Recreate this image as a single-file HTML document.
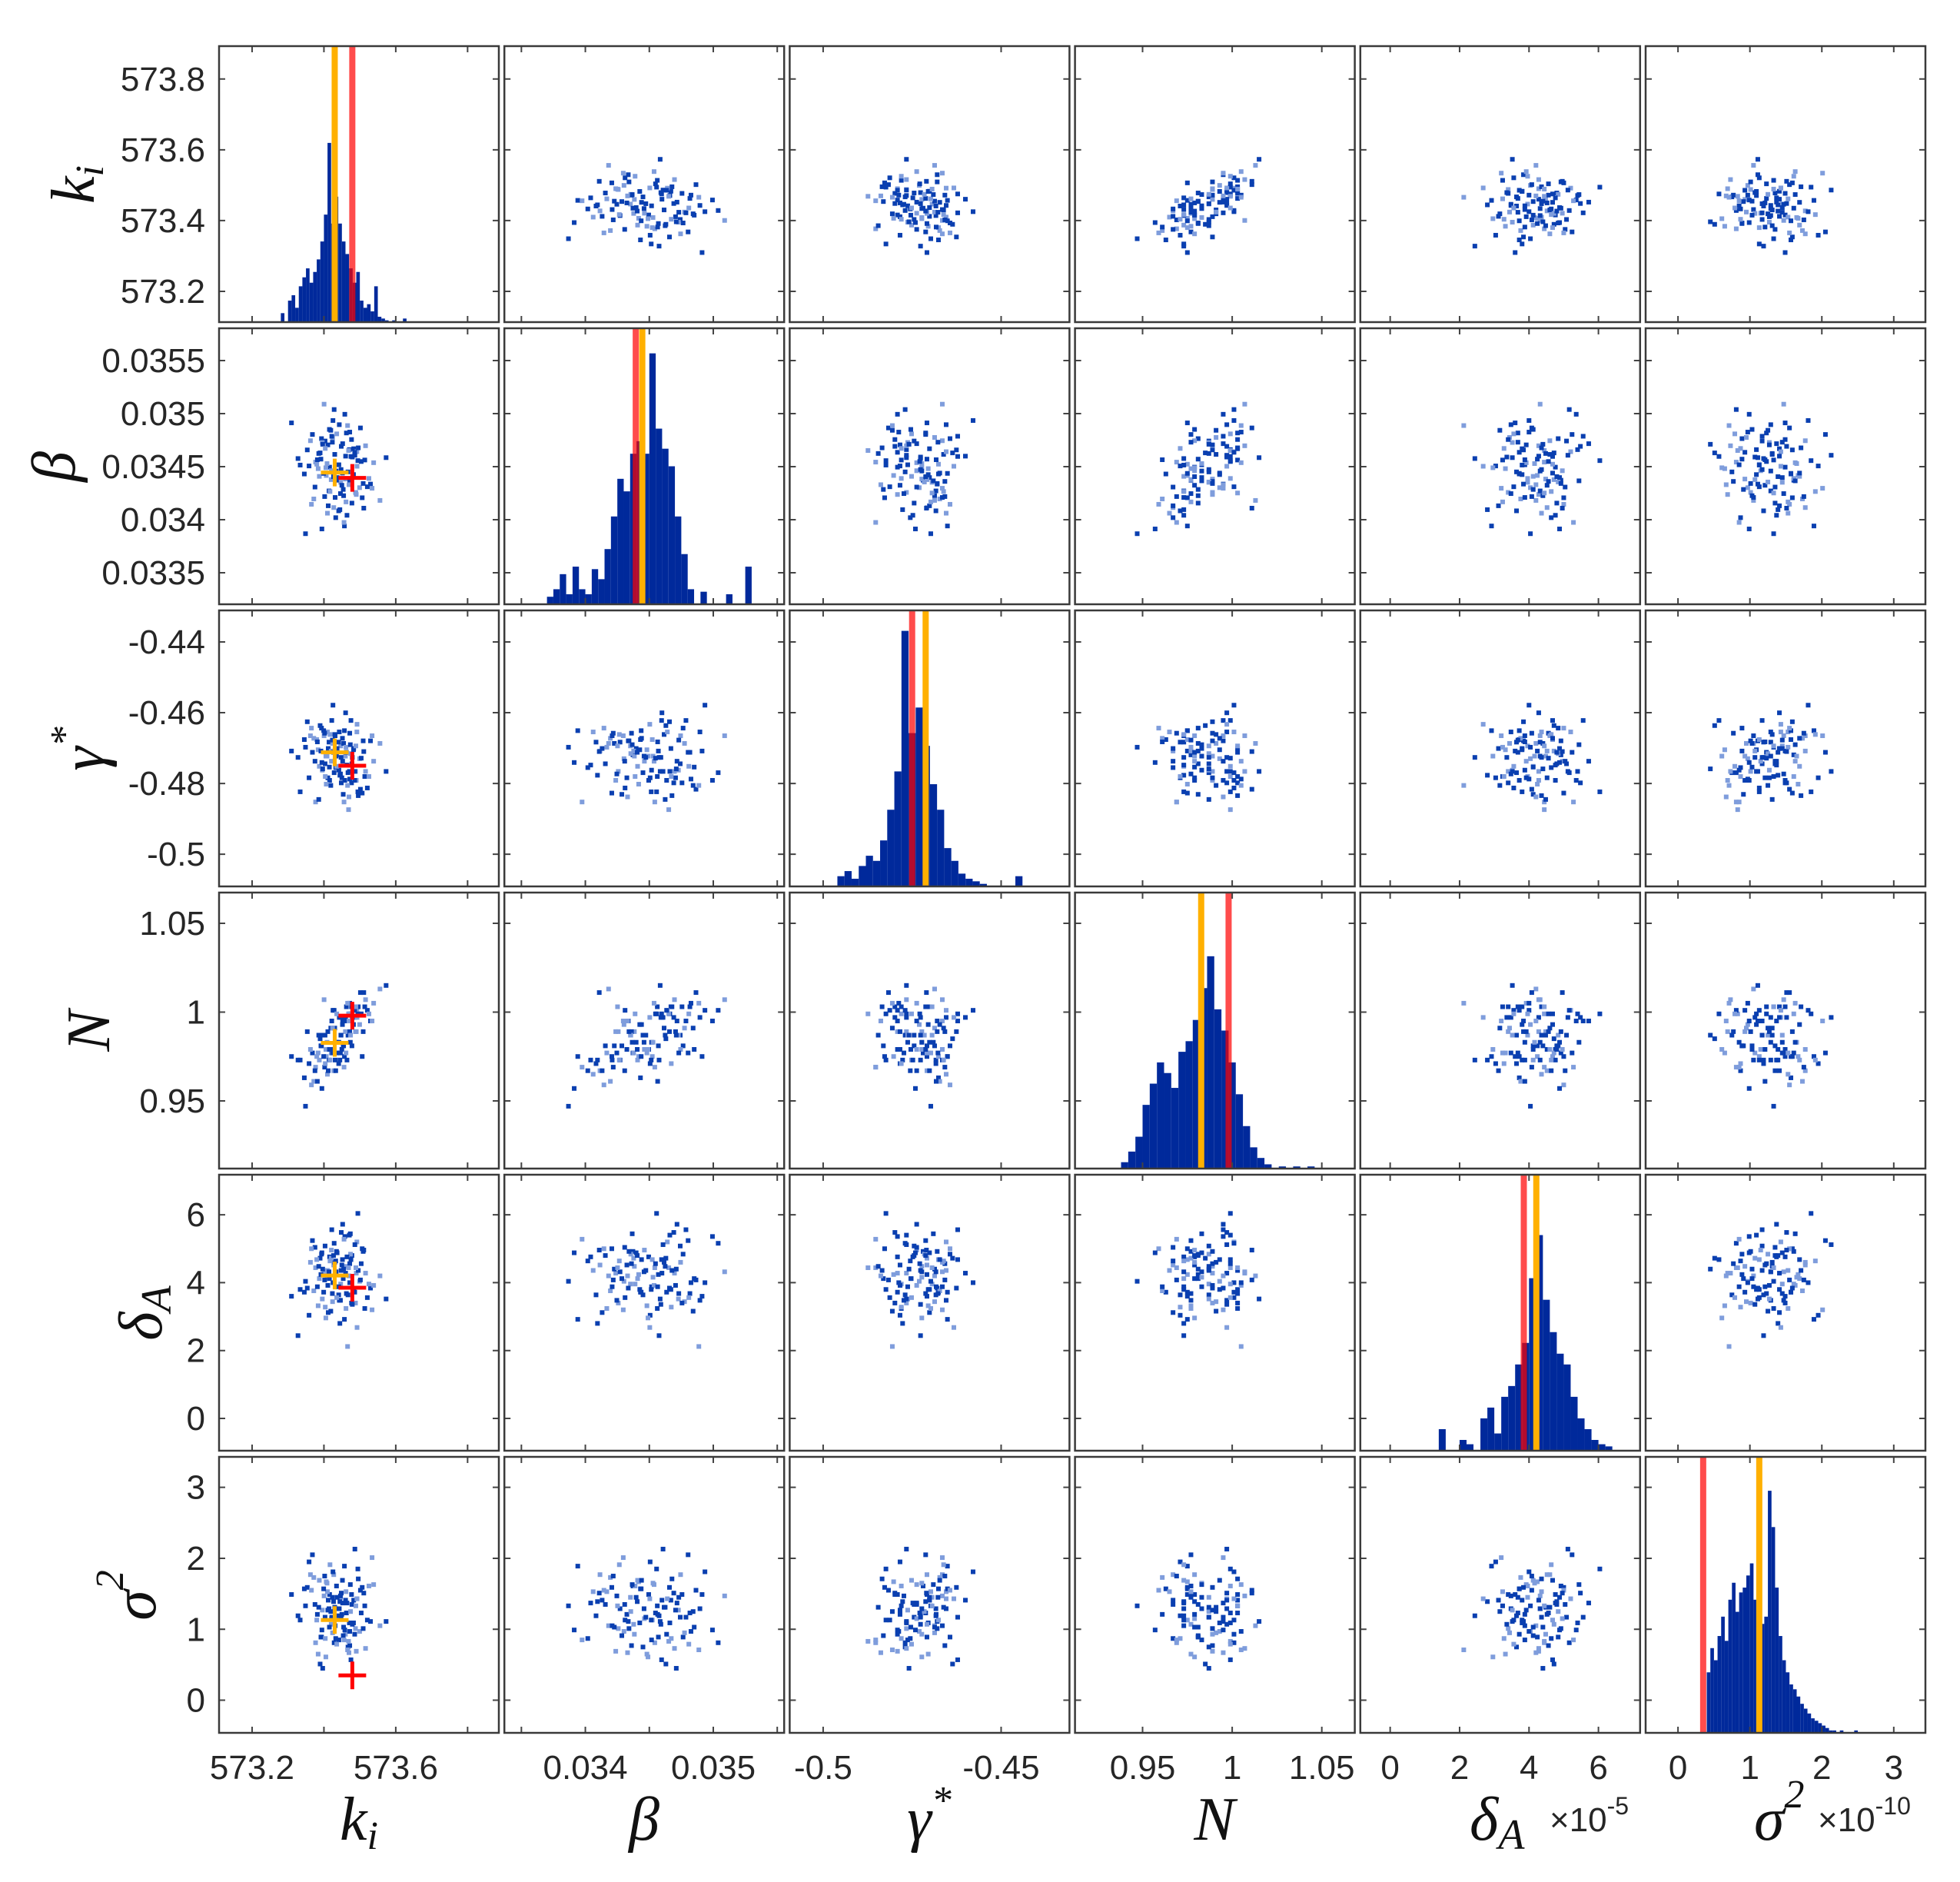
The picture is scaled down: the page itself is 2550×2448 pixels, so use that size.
<!DOCTYPE html>
<html><head><meta charset="utf-8"><style>
html,body{margin:0;padding:0;background:#fff}
svg{display:block}
.tl{font-family:"Liberation Sans",sans-serif;font-size:44px;fill:#262626}
.al{font-family:"Liberation Serif",serif;font-style:italic;fill:#111}
</style></head><body>
<svg id="fig" width="2550" height="2448" viewBox="0 0 2550 2448" xmlns="http://www.w3.org/2000/svg"></svg>
<script>
const paramNames = ['ki','beta','gamma','N','deltaA','sigma2'];
const xMin = [573.108, 0.033367, -0.5094, 0.9123, -0.86, -0.45];
const xMax = [573.887, 0.035554, -0.4308, 1.0684, 7.2, 3.44];
const yMin = [573.113, 0.033203, -0.5091, 0.9119, -0.95, -0.46];
const yMax = [573.893, 0.035804, -0.4311, 1.0673, 7.18, 3.43];
const xTicks = [[573.2,573.4,573.6,573.8],[0.0335,0.034,0.0345,0.035,0.0355],[-0.5,-0.45],[0.95,1,1.05],[0,2,4,6],[0,1,2,3]];
const xTickLabels = [['573.2','','573.6',''],['','0.034','','0.035',''],['-0.5','-0.45'],['0.95','1','1.05'],['0','2','4','6'],['0','1','2','3']];
const yTicks = [[573.2,573.4,573.6,573.8],[0.0335,0.034,0.0345,0.035,0.0355],[-0.5,-0.48,-0.46,-0.44],[0.95,1,1.05],[0,2,4,6],[0,1,2,3]];
const yTickLabels = [['573.2','573.4','573.6','573.8'],['0.0335','0.034','0.0345','0.035','0.0355'],['-0.5','-0.48','-0.46','-0.44'],['0.95','1','1.05'],['0','2','4','6'],['0','1','2','3']];
const estimates = [573.43, 0.034445, -0.4712, 0.9827, 4.21, 1.13];
const truths = [573.479, 0.034394, -0.475, 0.998, 3.85, 0.35];
const sampleCenter = [573.44, 0.03447, -0.473, 0.985, 4.2, 1.25];
const sampleSpread = [0.055, 0.00028, 0.0072, 0.02, 0.8, 0.4];
const zK = [0.12,-0.85,1.34,-0.23,0.56,-1.72,0.91,0.05,-0.44,1.08,-0.67,0.31,-1.15,0.78,-0.09,2.11,-0.38,0.64,-0.96,0.22,1.47,-0.55,0.03,-1.31,0.87,-0.18,0.49,-0.72,1.21,-2.04,0.36,-0.27,0.69,-1.02,0.15,1.63,-0.61,0.41,-0.13,0.94,-1.48,0.27,-0.81,0.58,1.12,-0.35,0.08,-0.92,1.79,-0.47,0.33,-1.24,0.71,-0.06,0.52,-1.66,0.99,-0.29,0.18,-0.74,1.38,-0.51,0.84,-1.09,0.25,-2.37,0.62,-0.16,1.01,-0.63,0.44,-0.33,1.55,-0.88,0.11,-1.41,0.77,-0.21,0.39,-0.99,1.26,-0.57,0.02,-0.79,0.95,-1.18,0.58,-0.42,2.42,-0.11,0.29,-1.57,0.67,-0.36,1.16,-0.69,0.47,-0.24,0.83,-1.36,0.14,-0.53,1.71,-0.83,0.37,-0.08,0.61,-1.93,0.89,-0.45,0.21,-0.66,1.29,-1.06,0.54,-0.3,0.06,-0.9,1.44,0.73];
const zB = [-0.42,1.05,0.33,-1.27,0.68,-0.14,-0.83,1.52,0.09,-0.6,0.97,-1.89,0.26,0.71,-0.35,-1.03,1.33,0.45,-0.22,0.88,-0.57,-1.46,0.17,1.19,-0.76,0.52,-0.07,2.21,-0.94,0.38,-0.31,1.66,-1.12,0.04,0.79,-0.48,-0.19,1.24,-1.61,0.61,0.13,-0.87,0.92,-0.39,1.41,-0.03,-1.34,0.57,0.24,-0.71,1.87,-0.98,0.43,-0.26,0.65,-2.15,0.31,1.09,-0.52,-0.12,0.81,-1.21,0.49,0.19,-0.66,1.58,-0.41,-0.93,0.74,0.07,-1.53,1.13,-0.29,0.36,-0.8,0.98,-0.16,2.03,-1.08,0.55,-0.46,0.21,-1.38,0.86,0.12,-0.58,1.27,-0.73,0.41,-0.04,-1.77,0.67,1.02,-0.33,0.28,-0.9,1.49,-0.23,0.59,-1.16,0.01,0.84,-0.62,-1.99,0.46,1.21,-0.37,0.16,-0.78,1.36,-0.11,0.72,-1.29,0.34,-0.5,0.93];
const zG = [0.5,1.2,-0.7,0.3,-0.5,0.75,-0.85,1.05,-0.85,0.0,-0.2,1.1,-1.7,0.4,0.15,0.6,-1.05,1.5,-0.3,-0.1,-1.15,1.05,-0.45,0.25,-0.5,0.95,-0.55,0.9,-1.35,0.05,0.1,2.1,-0.2,0.35,-0.95,0.7,-1.0,0.25,-0.35,1.05,-0.75,0.6,-0.45,1.0,-1.2,-0.1,-0.65,1.3,-0.1,0.65,-0.85,0.8,0.05,0.4,-2.0,0.45,-1.3,0.6,-0.75,1.1,-0.5,0.4,-0.5,0.75,-1.4,0.3,0.2,0.9,-1.45,0.1,-0.25,1.5,-0.7,0.3,-0.6,0.9,0.35,-0.55,0.45,-1.6,0.7,0.1,0.65,-0.4,1.35,-0.1,-0.8,0.95,-0.5,0.1,-1.7,1.45,-0.95,0.3,0.02,1.0,-1.05,0.25,-0.85,1.2,0.05,-0.75,0.9,-0.15,1.8,-0.3,0.55,-1.3,0.5,-0.33,0.8,-0.7,0.28,0.66,-1.5,0.73,-0.4,1.12,-0.62,0.35];
const zN = [0.1,-0.2,0.9,-0.9,0.7,-1.1,0.2,0.6,-0.3,0.4,0.1,-0.5,-0.8,0.9,-0.4,1.4,0.3,0.7,-0.6,0.5,0.8,-1.0,-0.1,-0.4,0.2,0.3,0.1,1.1,-0.5,-0.6,0.2,0.8,-0.2,-0.4,0.6,0.5,-0.5,0.9,-0.9,0.8,-0.7,-0.2,0.1,0.2,1.3,-0.3,-0.6,0.0,1.0,-0.6,0.5,-1.2,0.6,-0.1,0.7,-1.9,0.7,0.3,-0.3,-0.5,1.1,-0.9,0.6,-0.5,-0.2,-0.5,0.1,-0.6,0.9,-0.3,-0.6,0.5,0.7,-0.2,-0.4,-0.3,0.4,0.8,-0.4,0.1,0.2,-0.1,-0.7,0.1,0.6,-0.9,1.0,-0.6,1.5,-0.1,-0.8,0.2,0.9,-0.4,0.7,-0.8,1.0,-0.3,0.8,-1.3,0.1,0.2,0.5,-1.4,0.6,0.7,-0.1,-0.6,0.9,-0.3,0.4,-0.7,1.3,-1.2,0.5,-0.4,-0.2,0.0,1.3,0.8];
const zD = [-0.3,0.8,-1.2,0.4,1.5,-0.6,0.1,-0.9,0.7,-0.2,1.1,-1.6,0.3,-0.5,0.9,0.0,-1.3,0.6,-0.1,1.9,-0.8,0.2,-0.4,1.3,-1.0,0.5,-0.7,0.15,1.0,-2.2,0.35,-0.25,0.75,-1.1,1.6,-0.45,0.05,-0.65,0.55,1.25,-1.45,0.25,-0.85,0.45,-0.15,0.95,-1.75,0.65,-0.35,0.15,1.45,-0.55,-1.05,0.85,0.3,-0.2,2.3,-0.95,0.4,-0.6,0.1,-1.35,1.15,0.6,-0.1,-0.75,0.8,-0.4,0.2,-1.55,0.7,1.7,-0.3,0.05,-0.9,0.5,-0.5,1.2,-1.2,0.35,0.9,-0.05,-0.7,0.25,-1.9,1.05,-0.25,0.55,-0.85,0.15,1.35,-0.45,-1.0,0.65,0.45,-0.15,-2.6,0.75,-0.6,1.0,0.2,-0.35,-1.25,0.85,0.1,-0.8,1.55,-0.5,0.3,-0.1,0.6,-1.15,0.95,-0.4,0.0,-0.65,1.3,0.4,-1.4,-0.2];
const zS = [0.5,-0.9,0.2,1.3,-0.4,0.8,-1.4,0.1,0.6,-0.7,-0.2,1.6,-1.1,0.4,0.9,-0.5,0.0,-1.7,1.1,0.3,-0.3,0.7,-1.0,2.0,-0.6,0.15,-1.25,0.55,0.85,-0.15,-0.8,1.4,0.25,-1.5,0.65,-0.35,1.05,-0.05,-0.95,0.45,1.75,-0.55,0.05,-1.2,0.75,-0.25,0.35,-1.85,0.95,0.1,-0.65,1.2,-0.45,0.5,-1.05,0.2,1.5,-0.75,-0.1,0.8,-1.3,0.4,2.2,-0.3,-0.85,0.6,0.0,-0.5,1.15,-1.6,0.3,-0.2,0.9,-0.9,0.55,1.3,-0.4,-1.1,0.7,0.15,-0.6,1.0,-0.15,-2.0,0.45,0.25,-0.7,1.65,-0.35,0.1,-1.0,0.85,0.6,-0.45,-0.05,1.25,-1.35,0.35,-0.8,0.75,-0.2,0.05,1.9,-0.65,0.4,-1.15,0.95,-0.3,0.2,-0.55,1.1,-0.95,0.65,-0.1,-1.45,0.5];
const histStart = [573.28, 0.03370, -0.496, 0.938, 1.4, 0.40];
const histWidth = [0.01, 0.00005, 0.002, 0.004, 0.2, 0.05];
const histMax = [154, 110, 108, 130, 128, 114];
const countsKi = [5,0,12,15,8,20,25,30,22,28,35,45,60,100,55,70,55,45,38,30,22,28,12,8,10,6,20,3,2,1,0,1,0,0,2];
const countsBeta = [3,6,12,4,15,6,4,14,10,22,35,50,45,60,65,60,100,70,62,55,35,20,6,0,5,0,0,0,4,0,0,15];
const countsGamma = [4,6,3,8,12,10,18,30,45,100,60,70,55,40,30,15,10,5,3,2,1,0,0,0,0,4];
const countsN = [3,8,15,30,40,50,45,38,55,60,70,85,100,75,65,50,35,20,10,5,2,0,1,0,1,0,1];
const countsDelta = [10,0,0,5,3,0,15,20,8,25,30,40,50,80,100,70,55,45,40,25,15,10,5,3,2];
const countsSigma = [25,35,30,40,48,38,55,62,50,58,60,65,70,55,50,45,48,100,85,60,40,30,25,20,18,15,12,10,8,6,5,4,3,2,1,1,0,1,0,0,0,1];

const svg = document.getElementById('fig');
const NS = 'http://www.w3.org/2000/svg';
const zArrays = [zK, zB, zG, zN, zD, zS];
const countArrays = [countsKi, countsBeta, countsGamma, countsN, countsDelta, countsSigma];
const L0 = 285, CP = 371.2, PW = 364, T0 = 60, RP = 367, PH = 359;
function mk(tag, attrs, parent){ const e=document.createElementNS(NS,tag); for(const k in attrs) e.setAttribute(k,attrs[k]); (parent||svg).appendChild(e); return e; }
function px(c, v){ return L0 + CP*c + (v - xMin[c])/(xMax[c]-xMin[c])*PW; }
function py(r, v){ return T0 + RP*r + PH - (v - yMin[r])/(yMax[r]-yMin[r])*PH; }
const nS = Math.min(...zArrays.map(a=>a.length));
function sample(p, i){ return sampleCenter[p] + sampleSpread[p]*zArrays[p][i]; }

for(let r=0;r<6;r++){
  for(let c=0;c<6;c++){
    const left=L0+CP*c, top=T0+RP*r;
    const g = mk('g',{});
    
    
    mk('rect',{x:left,y:top,width:PW,height:PH,fill:'#fff'},g);
    if(r===c){
      const cnt = countArrays[r];
      const bottom = top+PH;
      for(let b=0;b<cnt.length;b++){
        if(!cnt[b]) continue;
        const x0=px(c, histStart[r]+b*histWidth[r]), x1=px(c, histStart[r]+(b+1)*histWidth[r]);
        const h = cnt[b]/histMax[r]*PH;
        const bar = mk('rect',{x:x0,y:bottom-h,width:Math.max(1,x1-x0),height:h,fill:'#00299b'},g);
        
        
      }
      const ex=px(c, estimates[r]);
      const el = mk('rect',{x:ex-4,y:top,width:8,height:PH,fill:'#ffb000'},g);
      
      
      const tx=px(c, truths[r]);
      const tl = mk('rect',{x:tx-4,y:top,width:8,height:PH,fill:'#ff0000','fill-opacity':0.7},g);
      
      
    } else {
      for(let i=0;i<nS;i++){
        const xv=sample(c,i), yv=sample(r,i);
        const x=px(c,xv), y=py(r,yv);
        if(x<left||x>left+PW||y<top||y>top+PH) continue;
        const d = mk('rect',{x:x-3,y:y-3,width:6,height:6,fill:(i%3===0)?'#7f9ddc':'#0a3fb0'},g);
        
        
      }
      if(c===0){
        [[estimates,'#ffb000','estimate-cross'],[truths,'#ff0000','true-value-cross']].forEach(([arr,col,nm])=>{
          const x=px(0,arr[0]), y=py(r,arr[r]);
          const cr = mk('path',{d:`M${x-18} ${y}H${x+18}M${x} ${y-18}V${y+18}`,stroke:col,'stroke-width':5,fill:'none'},g);
          
          
        });
      }
    }
    xTicks[c].forEach(t=>{ const x=px(c,t); mk('path',{d:`M${x} ${top+PH}v-8M${x} ${top}v8`,stroke:'#444','stroke-width':2},g); });
    yTicks[r].forEach(t=>{ const y=py(r,t); mk('path',{d:`M${left} ${y}h8M${left+PW} ${y}h-8`,stroke:'#444','stroke-width':2},g); });
    mk('rect',{x:left,y:top,width:PW,height:PH,fill:'none',stroke:'#3a3a3a','stroke-width':2.5},g);
  }
}
for(let r=0;r<6;r++){
  yTicks[r].forEach((t,k)=>{
    const tx = mk('text',{x:267,y:py(r,t)+15,'text-anchor':'end',class:'tl'});
    tx.textContent = yTickLabels[r][k];
    
    
  });
}
for(let c=0;c<6;c++){
  xTicks[c].forEach((t,k)=>{
    if(!xTickLabels[c][k]) return;
    const tx = mk('text',{x:px(c,t),y:2314,'text-anchor':'middle',class:'tl'});
    tx.textContent = xTickLabels[c][k];
    
    
  });
}
</script>
<svg style="position:absolute;left:0;top:0" width="2550" height="2448">
  <g class="al" font-size="80">
    <text x="467" y="2393" text-anchor="middle">k<tspan font-size="52" dy="12">i</tspan></text>
    <text x="838" y="2393" text-anchor="middle">β</text>
    <text x="1209" y="2393" text-anchor="middle">γ<tspan font-size="52" dy="-34">*</tspan></text>
    <text x="1580" y="2393" text-anchor="middle">N</text>
    <text x="1912" y="2393">δ<tspan font-size="56" dy="12">A</tspan></text>
    <text x="2282" y="2393">σ<tspan font-size="52" dy="-42">2</tspan></text>
  </g>
  <text class="tl" x="2016" y="2382" font-size="46">×10<tspan font-size="32" dy="-22">-5</tspan></text>
  <text class="tl" x="2365" y="2382" font-size="46">×10<tspan font-size="32" dy="-22">-10</tspan></text>
  <g class="al" font-size="80">
    <text transform="translate(122,240) rotate(-90)" text-anchor="middle">k<tspan font-size="52" dy="12">i</tspan></text>
    <text transform="translate(97,607) rotate(-90)" text-anchor="middle">β</text>
    <text transform="translate(135,974) rotate(-90)" text-anchor="middle">γ<tspan font-size="52" dy="-34">*</tspan></text>
    <text transform="translate(142,1341) rotate(-90)" text-anchor="middle">N</text>
    <text transform="translate(210,1708) rotate(-90)" text-anchor="middle">δ<tspan font-size="56" dy="12">A</tspan></text>
    <text transform="translate(202,2075) rotate(-90)" text-anchor="middle">σ<tspan font-size="52" dy="-42">2</tspan></text>
  </g>
</svg>
</body></html>
